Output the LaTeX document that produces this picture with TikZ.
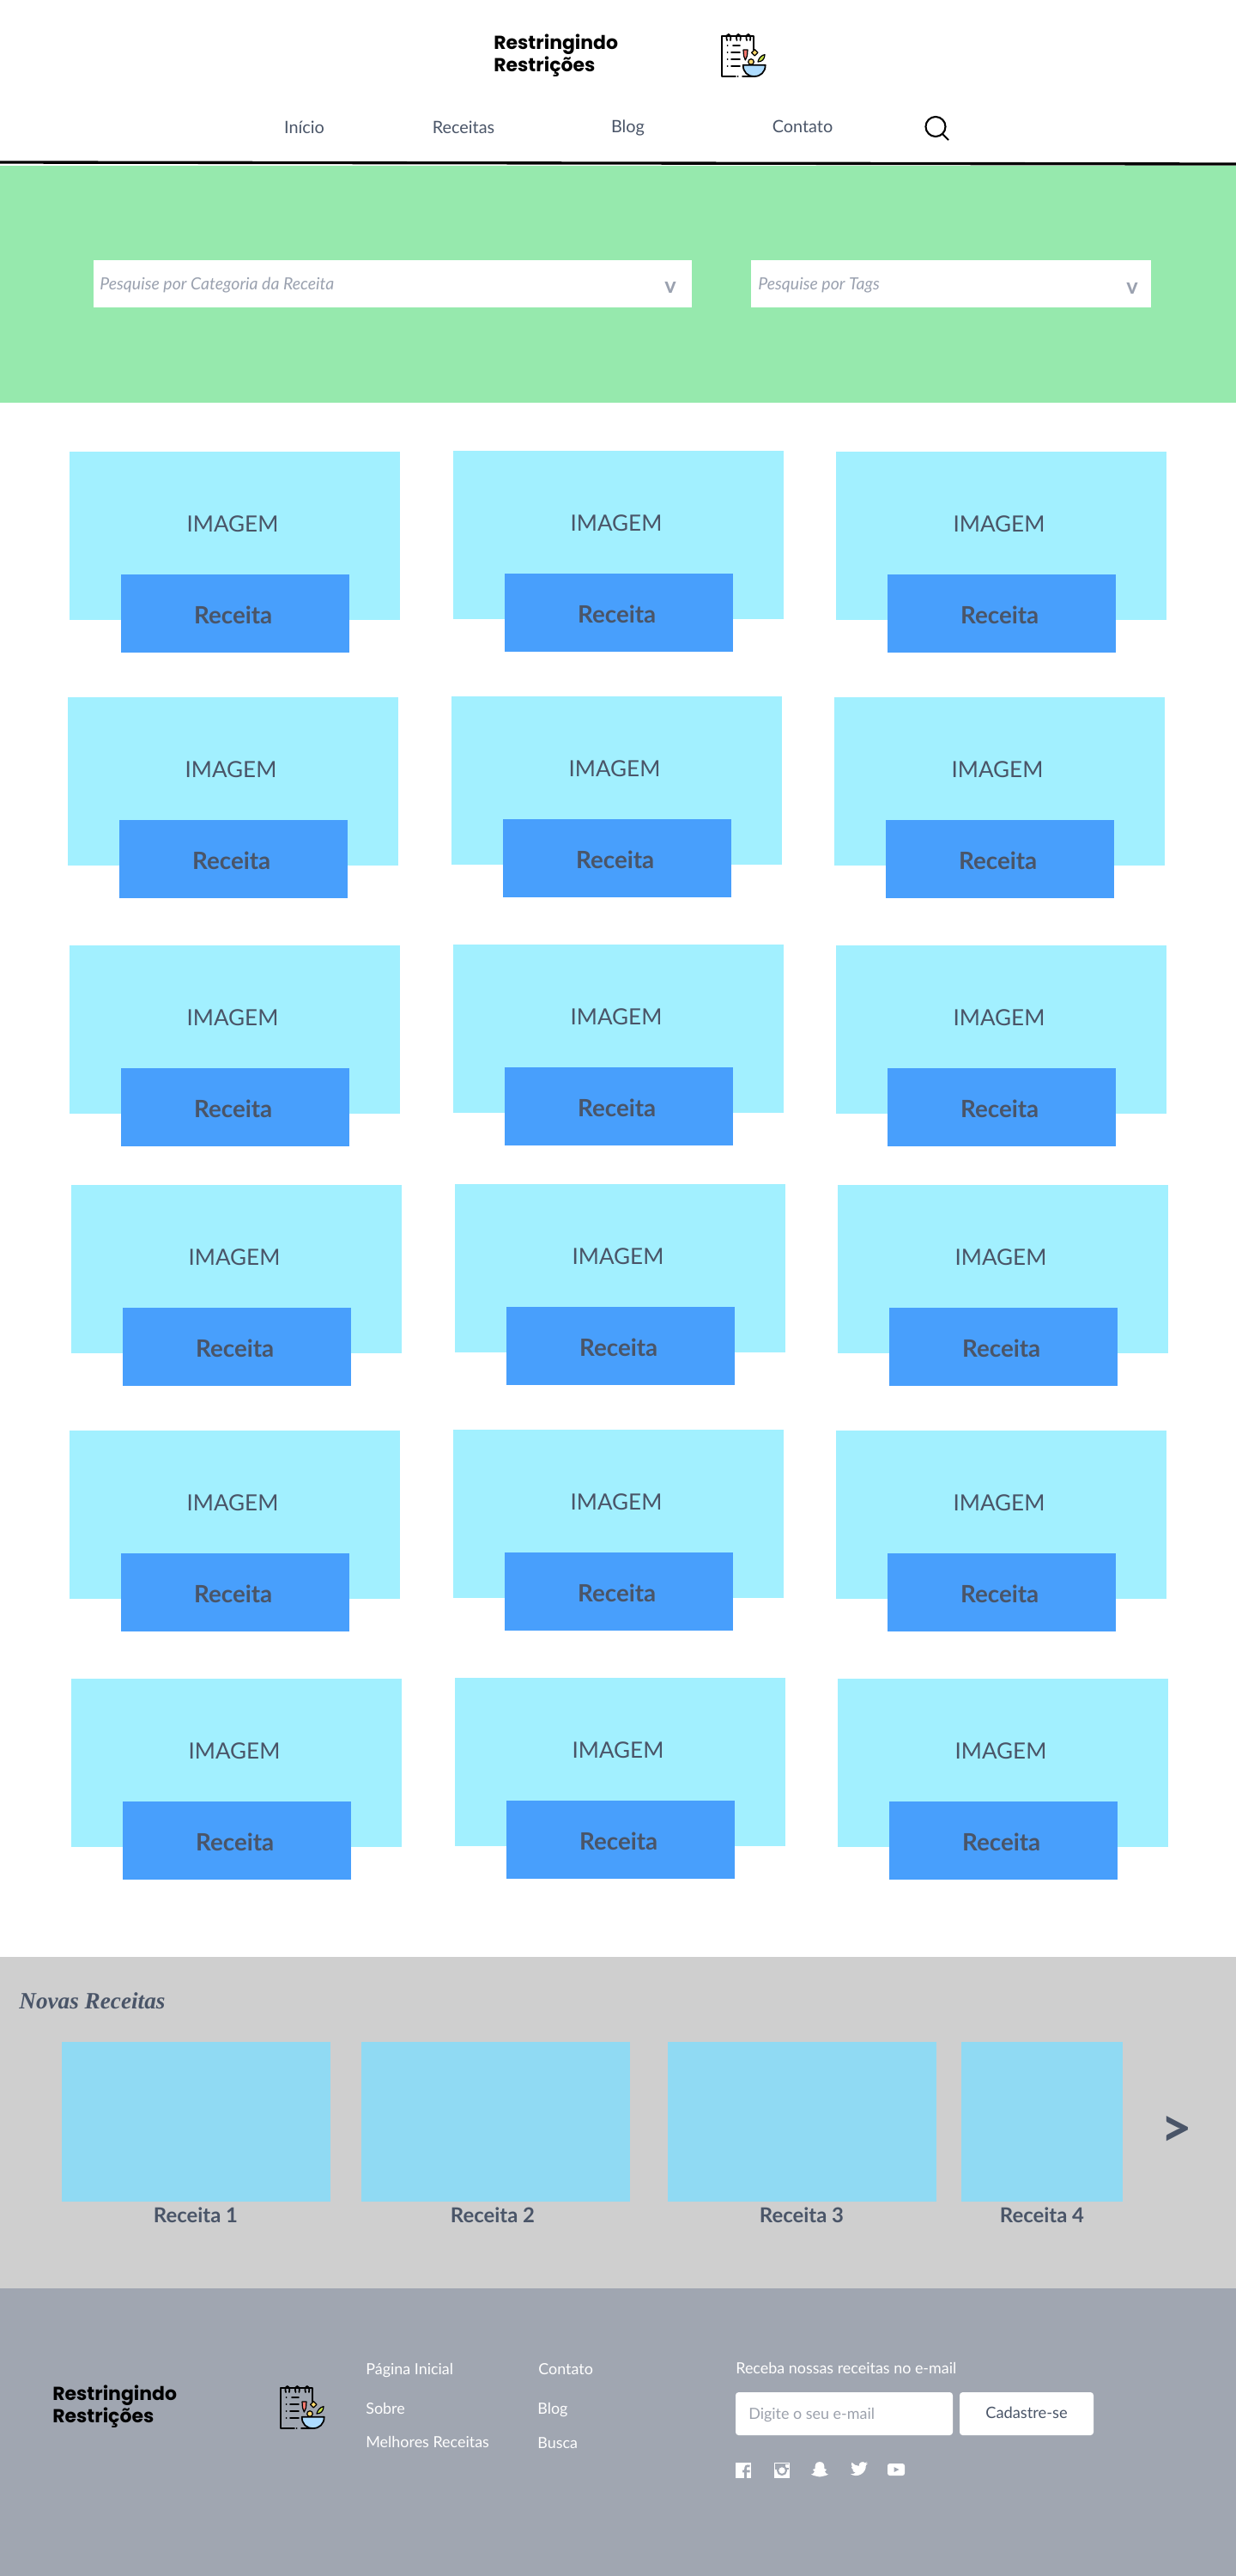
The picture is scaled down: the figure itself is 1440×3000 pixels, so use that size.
\documentclass[tikz,border=0pt]{standalone}
\usepackage{fontspec}
\setmainfont{Lato}
\newfontfamily\logofont{Poppins}
\newfontfamily\titlefont{Liberation Serif}
\definecolor{slate}{HTML}{4A5568}
\definecolor{greenband}{HTML}{96E9AD}
\definecolor{imgcyan}{HTML}{A2F0FF}
\definecolor{recblue}{HTML}{489FFC}
\definecolor{grayband}{HTML}{CFCFCF}
\definecolor{thumbblue}{HTML}{90DAF3}
\definecolor{footerbg}{HTML}{A0A6B1}
\definecolor{hinttext}{HTML}{9AA1AF}
\definecolor{iconbowl}{HTML}{AEDCFF}
\definecolor{iconchili}{HTML}{FF7A70}
\definecolor{iconseed}{HTML}{FFD86B}
\definecolor{iconleaf}{HTML}{C6E04A}
\tikzset{
  pxbox/.style n args={3}{fill=#3,draw=none,inner sep=0,outer sep=0,anchor=north west,
    minimum width=#1*0.02cm,minimum height=#2*0.02cm},
  imgbox/.style={pxbox={385}{196}{imgcyan}},
  recbox/.style={pxbox={266}{91}{recblue}},
  thumb/.style={pxbox={#1}{186}{thumbblue}},
  imgtext/.style={font=\fontsize{14.8}{18}\selectfont,text=slate,inner sep=0},
  rectext/.style={font=\fontsize{15.8}{18}\selectfont\bfseries,text=slate,inner sep=0},
  navtext/.style={font=\fontsize{11.3}{14}\selectfont,text=slate,inner sep=0,anchor=base},
  hint/.style={font=\fontsize{11.1}{13}\selectfont\itshape,text=hinttext,inner sep=0,anchor=base west},
  arrowv/.style={font=\fontsize{14.5}{17}\selectfont\bfseries,text=hinttext,inner sep=0,anchor=base},
  logotext/.style={font=\logofont\fontsize{12.5}{14.7}\selectfont\bfseries,text=black,inner sep=0,
    anchor=base west,align=left},
  thumbtext/.style={font=\fontsize{13.6}{16}\selectfont\bfseries,text=slate,inner sep=0,anchor=base},
  foottext/.style={font=\fontsize{10.2}{13}\selectfont,text=white,inner sep=0,anchor=base west},
  formbox/.style={fill=white,rounded corners=2pt,inner sep=0,outer sep=0,anchor=north west,
    minimum width=#1*0.02cm,minimum height=50*0.02cm},
  iconline/.style={line width=1pt,line cap=round,line join=round},
  iconpart/.style={line width=0.7pt,line cap=round,line join=round,fill=#1}
}
\newcommand{\recipecard}[3]{%
  \node[imgbox] (img#1) at (#2,#3) {};
  \node[imgtext] (imgt#1) at (#2+190,#3+84) {IMAGEM};
  \node[recbox] (rec#1) at (#2+60,#3+143) {};
  \node[rectext] (rect#1) at (#2+190.7,#3+190) {Receita};
}
\newcommand{\notebookicon}[2]{%
  \begin{scope}[shift={(#1,#2)}]
    \draw[iconline]
      (38,20) -- (38,4.3) -- (0.7,4.3) -- (0.7,51) -- (17,51)
      (25,51) -- (38,51)
      (19.5,51) -- (19.7,51);
    \draw[iconline]
      (7,9) .. controls (4,0) and (13,-1) .. (11,9)
      (18.5,9) .. controls (15.5,0) and (24.5,-1) .. (22.5,9)
      (30,9) .. controls (27,0) and (36,-1) .. (34,9);
    \draw[iconline]
      (7.5,15) -- (7.7,15) (14,15) -- (22,15)
      (7.5,23) -- (7.7,23) (12,23) -- (22,23)
      (7.5,31) -- (7.7,31) (12,31) -- (22,31)
      (7.5,39) -- (7.7,39) (12,39) -- (22,39);
    \filldraw[iconpart=iconchili]
      (26,20) -- (31,20) -- (30.5,27) -- (28.3,32) -- (26.5,27) -- cycle;
    \filldraw[iconpart=iconseed]
      (39.3,19.6) -- (43,23.3) -- (39.3,27) -- (35.6,23.3) -- cycle;
    \filldraw[iconpart=iconleaf]
      (51,25.5) .. controls (51,31) and (47.5,34) .. (43,34) .. controls (44,29.5) and (47,26.5) .. (51,25.5) -- cycle;
    \filldraw[iconpart=iconseed]
      (35,34) circle (3.3);
    \filldraw[iconline,fill=iconbowl]
      (25.7,37.7) -- (51.7,37.7) .. controls (51.7,46) and (46,51) .. (38.7,51) .. controls (31,51) and (25.7,46) .. (25.7,37.7) -- cycle;
  \end{scope}
}
\begin{document}
\begin{tikzpicture}[x=0.02cm,y=-0.02cm]
  \useasboundingbox (0,0) rectangle (1440,3000);
  \fill[white] (0,0) rectangle (1440,3000);
  \node[logotext] (logotop) at (575,83) {Restringindo\\Restrições};
  \notebookicon{840}{38}
  \node[navtext] (navinicio) at (354.5,155) {Início};
  \node[navtext] (navreceitas) at (540,155) {Receitas};
  \node[navtext] (navblog) at (731.5,154) {Blog};
  \node[navtext] (navcontato) at (935,154) {Contato};
  \draw[line width=1.2pt]
    (1090,147.5) circle (11.5)
    (1098,156)
    --
    (1105,163);
  \coordinate (ruleleft) at (0,189);
  \coordinate (ruleright) at (1440,191);
  \draw[line width=1.9pt] (ruleleft) -- (ruleright);
  \node[pxbox={1440}{276}{greenband}] (searchband) at (0,193) {};
  \node[pxbox={697}{55}{white}] (catbox) at (109,303) {};
  \node[pxbox={466}{55}{white}] (tagbox) at (875,303) {};
  \node[hint] (cathint) at (116,337) {Pesquise por Categoria da Receita};
  \node[hint] (taghint) at (883,337) {Pesquise por Tags};
  \node[arrowv] (catarrow) at (781,341) {v};
  \node[arrowv] (tagarrow) at (1319,342) {v};
  \recipecard{A}{81}{526}
  \recipecard{B}{528}{525}
  \recipecard{C}{974}{526}
  \recipecard{D}{79}{812}
  \recipecard{E}{526}{811}
  \recipecard{F}{972}{812}
  \recipecard{G}{81}{1101}
  \recipecard{H}{528}{1100}
  \recipecard{I}{974}{1101}
  \recipecard{J}{83}{1380}
  \recipecard{K}{530}{1379}
  \recipecard{L}{976}{1380}
  \recipecard{M}{81}{1666}
  \recipecard{N}{528}{1665}
  \recipecard{O}{974}{1666}
  \recipecard{P}{83}{1955}
  \recipecard{Q}{530}{1954}
  \recipecard{R}{976}{1955}
  \node[pxbox={1440}{386}{grayband}] (newband) at (0,2279) {};
  \node[font=\titlefont\fontsize{15.5}{18}\selectfont\bfseries\itshape,text=slate,inner sep=0,anchor=base west] (newtitle) at (22,2339) {Novas Receitas};
  \node[thumb=313] (thumba) at (72,2378) {};
  \node[thumb=313] (thumbb) at (421,2378) {};
  \node[thumb=313] (thumbc) at (778,2378) {};
  \node[thumb=188] (thumbd) at (1120,2378) {};
  \node[thumbtext] (labela) at (228,2588) {Receita 1};
  \node[thumbtext] (labelb) at (574,2588) {Receita 2};
  \node[thumbtext] (labelc) at (934,2588) {Receita 3};
  \node[thumbtext] (labeld) at (1214,2588) {Receita 4};
  \node[font=\fontsize{36}{38}\selectfont\bfseries,text=slate,inner sep=0] (nextarrow) at (1371,2482) {>};
  \node[pxbox={1440}{335}{footerbg}] (footerband) at (0,2665) {};
  \node[logotext] (logofoot) at (61,2821) {Restringindo\\Restrições};
  \notebookicon{326}{2777}
  \node[foottext] (footinicial) at (426,2765) {Página Inicial};
  \node[foottext] (footsobre) at (426,2811) {Sobre};
  \node[foottext] (footmelhores) at (426,2850) {Melhores Receitas};
  \node[foottext] (footcontato) at (627,2765) {Contato};
  \node[foottext] (footblog) at (626,2811) {Blog};
  \node[foottext] (footbusca) at (626,2851) {Busca};
  \node[foottext] (footemail) at (857,2764) {Receba nossas receitas no e-mail};
  \node[formbox=253] (emailbox) at (857,2786) {};
  \node[formbox=156] (signupbox) at (1118,2786) {};
  \node[font=\fontsize{10.2}{13}\selectfont,text=slate!55!white,inner sep=0,anchor=base west] (emailhint) at (872,2817) {Digite o seu e-mail};
  \node[font=\fontsize{10.4}{13}\selectfont,text=slate,inner sep=0,anchor=base] (signuptext) at (1196,2816) {Cadastre-se};
  \fill[white] (857,2868) rectangle (875,2886);
  \draw[footerbg,line width=1.5pt]
    (873.5,2872) .. controls (869,2871) and (868.5,2873) .. (868.5,2876)
    --
    (868.5,2886)
    (865,2878)
    --
    (873.5,2878);
  \fill[white] (902,2868) rectangle (920,2886);
  \fill[footerbg] (903,2869) rectangle (919,2885);
  \fill[white] (903,2876) rectangle (919,2885);
  \fill[white] (915,2870) rectangle (918.5,2873.5);
  \filldraw[draw=footerbg,fill=white,line width=1.2pt] (911,2877) circle (5);
  \fill[white]
    (955,2867) .. controls (950,2867) and (949.5,2871) .. (949.5,2875)
    -- (947,2876) -- (949,2878.5)
    .. controls (948,2880.5) and (946.5,2881.5) .. (945,2881.5)
    -- (948,2883) .. controls (951,2883.5) and (952,2884.5) .. (955,2884.5)
    .. controls (958,2884.5) and (959,2883.5) .. (962,2883)
    -- (965,2881.5)
    .. controls (963.5,2881.5) and (962,2880.5) .. (961,2878.5)
    -- (963,2876) -- (960.5,2875)
    .. controls (960.5,2871) and (960,2867) .. (955,2867) -- cycle;
  \begin{scope}[shift={(991,2865)},x=0.0166cm,y=-0.0166cm]
    \fill[white]
      (24,4.6) -- (21.1,5.3) -- (23.3,2.6) -- (20.2,3.8)
      .. controls (17.2,0.7) and (10.8,3.4) .. (11.8,8.3)
      .. controls (7.7,8.1) and (4.1,6.1) .. (1.6,3.2)
      .. controls (0.3,5.4) and (1,8.3) .. (3.2,9.7)
      -- (0.9,9.1)
      .. controls (1,11.5) and (2.6,13.5) .. (4.9,14)
      -- (2.7,14.1)
      .. controls (3.3,16) and (5.2,17.4) .. (7.3,17.5)
      .. controls (5.4,19) and (2.6,19.8) .. (0,19.5)
      .. controls (9,25.5) and (22,19) .. (21.5,7.1)
      -- cycle;
  \end{scope}
  \fill[white,rounded corners=1.5pt] (1034,2869) rectangle (1054,2883);
  \fill[footerbg] (1041.5,2873) -- (1047.5,2876) -- (1041.5,2879) -- cycle;
\end{tikzpicture}
\end{document}
